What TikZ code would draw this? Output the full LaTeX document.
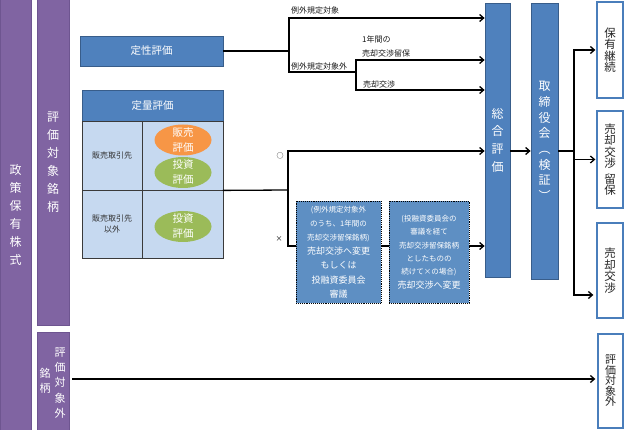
\documentclass[tikz,border=0pt]{standalone}
\usepackage{fontspec}
\setmainfont{Noto Sans CJK JP}
\usetikzlibrary{arrows.meta,shapes.geometric}
\definecolor{purp}{HTML}{8064A2}
\definecolor{purpdark}{HTML}{6E5590}
\definecolor{blu}{HTML}{4F81BD}
\definecolor{bludark}{HTML}{385D8A}
\definecolor{cellblue}{HTML}{C6D9F0}
\definecolor{celledge}{HTML}{3A3A3A}
\definecolor{orng}{HTML}{F79646}
\definecolor{grn}{HTML}{9BBB59}
\definecolor{dotblue}{HTML}{5E8FC3}
\definecolor{outblue}{HTML}{4A7EBB}
\begin{document}
\begin{tikzpicture}[x=1pt,y=-1pt,
  purpcol/.style={fill=purp, draw=purpdark, line width=0.8pt, text=white, align=center, inner sep=0pt, font=\fontsize{12}{18}\selectfont},
  purptext/.style={text=white, align=center, inner sep=0pt, font=\fontsize{11}{15.3}\selectfont},
  bluebox/.style={fill=blu, draw=bludark, line width=0.8pt, text=white, inner sep=0pt, font=\fontsize{10.5}{12}\selectfont},
  cell/.style={fill=cellblue, draw=celledge, line width=0.8pt, inner sep=0pt, align=center, text=black!80, font=\fontsize{8}{10.5}\selectfont},
  oval/.style={ellipse, inner sep=0pt, minimum width=57pt, minimum height=31pt},
  ovaltext/.style={text=white, align=center, inner sep=0pt, font=\fontsize{10.5}{15}\selectfont},
  dotbox/.style={fill=dotblue, draw=black, densely dotted, line width=0.9pt, text=white, align=center, inner sep=0pt},
  tall/.style={fill=blu, draw=bludark, line width=0.8pt, text=white, align=center, inner sep=0pt},
  outbox/.style={fill=white, draw=outblue, line width=1.3pt, align=center, inner sep=0pt, text=black!85, font=\fontsize{11.5}{11.5}\selectfont},
  conn/.style={draw=black, line width=1.3pt, line cap=rect},
  arr/.style={conn, -{Straight Barb[length=4pt,width=7pt]}},
  lbl/.style={font=\fontsize{8}{9}\selectfont, inner sep=0pt, anchor=west, text=black!90}]
\useasboundingbox (0,0) rectangle (624,430);

% left columns
\node[purpcol, minimum width=31pt, minimum height=432pt] (seisaku) at (15.5,215) {政\\策\\保\\有\\株\\式};
\node[purpcol, minimum width=32pt, minimum height=327pt] (taisho) at (53,162) {評\\価\\対\\象\\銘\\柄};
\node[purpcol, minimum width=32pt, minimum height=100pt] (gai) at (53,382) {};
\node[purptext] (gaiA) at (60,383) {評\\価\\対\\象\\外};
\node[purptext] (gaiB) at (45,381) {銘\\柄};

% qualitative
\node[bluebox, minimum width=143pt, minimum height=30pt] (teisei) at (151.5,51) {定性評価};

% quantitative table
\node[bluebox, minimum width=141pt, minimum height=31pt] (teiryo) at (152.5,105.5) {定量評価};
\node[cell, minimum width=60pt, minimum height=69pt] (c11) at (112,155.5) {販売取引先};
\node[cell, minimum width=81pt, minimum height=69pt] (c12) at (182.5,155.5) {};
\node[cell, minimum width=60pt, minimum height=68pt] (c21) at (112,224) {販売取引先\\以外};
\node[cell, minimum width=81pt, minimum height=68pt] (c22) at (182.5,224) {};
\node[oval, fill=orng, label={[ovaltext]center:販売\\評価}] (e1) at (183,140) {};
\node[oval, fill=grn, label={[ovaltext]center:投資\\評価}] (e2) at (183,172.5) {};
\node[oval, fill=grn, label={[ovaltext]center:投資\\評価}] (e3) at (183,226.5) {};

% dotted boxes
\node[dotbox, minimum width=85pt, minimum height=102pt, font=\fontsize{7.5}{14.2}\selectfont] (box1) at (338.5,252)
  {(例外規定対象外\\のうち、1年間の\\売却交渉留保銘柄)\\{\fontsize{9}{14}\selectfont 売却交渉へ変更}\\{\fontsize{9}{14}\selectfont もしくは}\\{\fontsize{9}{14}\selectfont 投融資委員会}\\{\fontsize{9}{14}\selectfont 審議}};
\node[dotbox, minimum width=80pt, minimum height=102pt, font=\fontsize{7.5}{13.3}\selectfont] (box2) at (429,252)
  {(投融資委員会の\\審議を経て\\売却交渉留保銘柄\\としたものの\\続けて×の場合)\\{\fontsize{9}{14}\selectfont 売却交渉へ変更}};

% tall columns
\node[tall, minimum width=25pt, minimum height=274pt, font=\fontsize{12}{17.7}\selectfont] (sogo) at (497.5,140) {総\\合\\評\\価};
\node[tall, minimum width=27pt, minimum height=276pt, font=\fontsize{12}{15.7}\selectfont] (tori) at (544.5,141) {取\\締\\役\\会\\︵\\検\\証\\︶};

% outcome boxes
\node[outbox, minimum width=26pt, minimum height=96pt] (hoyu) at (610,50) {保\\有\\継\\続};
\node[outbox, minimum width=26pt, minimum height=97pt] (ryuho) at (610,159.5) {売\\却\\交\\渉\\[4pt]留\\保};
\node[outbox, minimum width=26pt, minimum height=95pt, font=\fontsize{11.5}{10.5}\selectfont] (baikyaku) at (610,270.5) {売\\却\\交\\渉};
\node[outbox, minimum width=25pt, minimum height=94pt, font=\fontsize{11}{10.5}\selectfont] (taishogai) at (610.5,381) {評\\価\\対\\象\\外};

% connectors: qualitative
\coordinate (j1) at (289,51);
\coordinate (j1t) at (289,18);
\coordinate (j1b) at (289,72);
\coordinate (j2) at (356,72);
\coordinate (j2t) at (356,60);
\coordinate (j2b) at (356,90);
\draw[conn] (teisei.east) -- (j1);
\draw[arr] (j1b) |- (sogo.west |- j1t);
\draw[conn] (j1b) -- (j2);
\draw[arr] (j2b) |- (sogo.west |- j2t);
\draw[arr] (j2b) -- (sogo.west |- j2b);
\node[lbl] (l1) at (291,10) {例外規定対象};
\node[lbl] (l2) at (291,66) {例外規定対象外};
\node[lbl] (l3) at (362,39.5) {1年間の};
\node[lbl] (l4) at (362,53) {売却交渉留保};
\node[lbl] (l5) at (363,84.5) {売却交渉};

% connectors: quantitative
\coordinate (k) at (288,190);
\coordinate (kt) at (288,151);
\coordinate (kb) at (288,246);
\draw[conn] (c12.south east) -- (k);
\draw[arr] (kb) |- (sogo.west |- kt);
\draw[conn] (kb) -- (box1.west |- kb);
\draw[conn] (box1.east |- kb) -- (box2.west |- kb);
\draw[arr] (box2.east |- kb) -- (sogo.west |- kb);
\node[font=\fontsize{7}{8}\selectfont, inner sep=0pt] (maru) at (280,156) {○};
\node[font=\fontsize{7}{8}\selectfont, inner sep=0pt] (batsu) at (279,239.5) {×};

% sogo -> tori -> outcomes
\draw[arr] (sogo.east |- kt) -- (tori.west |- kt);
\coordinate (m) at (574,151);
\coordinate (mb) at (574,295);
\draw[conn] (tori.east |- kt) -- (m);
\draw[arr, shorten >=1pt] (mb) |- (hoyu.west);
\draw[arr, shorten >=1pt] (m |- ryuho.west) -- (ryuho.west);
\draw[arr, shorten >=3pt] (mb) -- (baikyaku.west |- mb);

% excluded
\coordinate (g) at (73,379);
\draw[arr, shorten >=2pt] (g) -- (taishogai.west |- g);
\end{tikzpicture}
\end{document}
